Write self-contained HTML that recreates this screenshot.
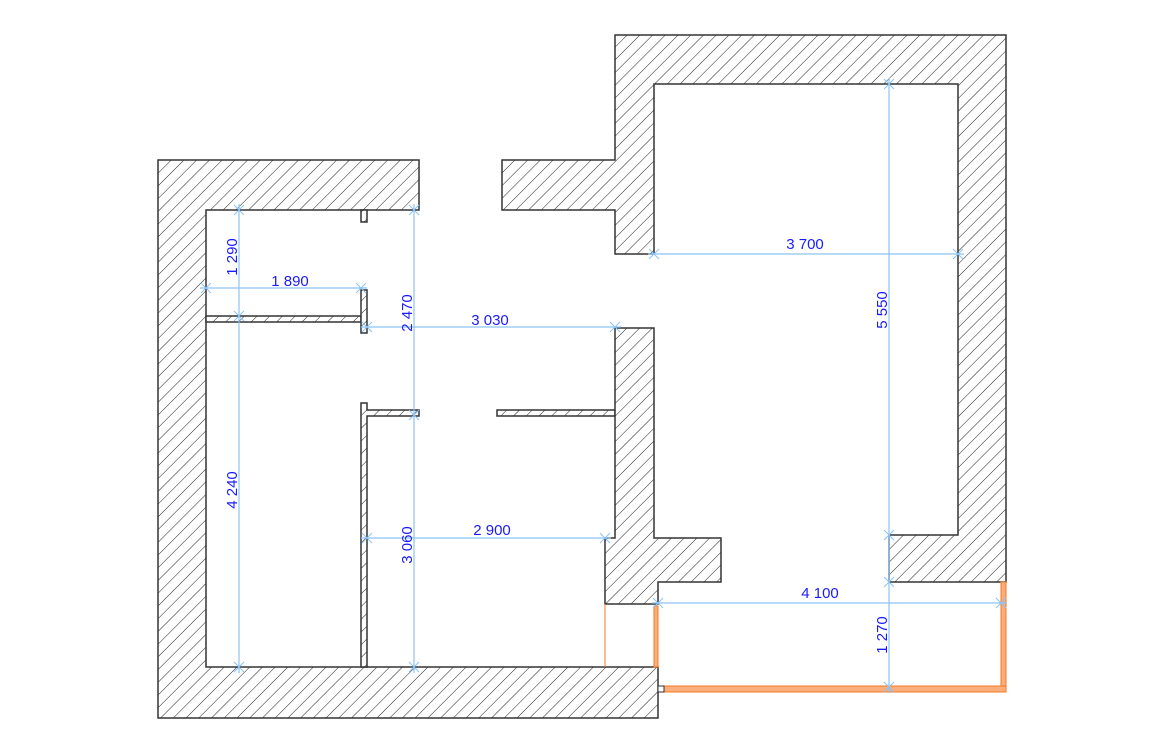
<!DOCTYPE html>
<html><head><meta charset="utf-8"><style>
html,body{margin:0;padding:0;background:#fff}
svg{display:block}
text{font-family:"Liberation Sans",sans-serif;font-size:15px;fill:#1a1aff}
</style></head><body>
<svg width="1163" height="751" viewBox="0 0 1163 751" xmlns="http://www.w3.org/2000/svg">
<defs>
<pattern id="h" patternUnits="userSpaceOnUse" width="9" height="9" patternTransform="rotate(45)">
<rect width="9" height="9" fill="#fff"/>
<line x1="0" y1="0" x2="0" y2="9" stroke="#222" stroke-width="1"/>
</pattern>
</defs>
<g fill="url(#h)" stroke="#333" stroke-width="1.5">
<path d="M158,160 H419 V210 H206 V667 H658 V718 H158 Z"/>
<path d="M206,316 H361 V322 H206 Z"/>
<path d="M361,210 H367 V222 H361 Z"/>
<path d="M361,290 H367 V333 H361 Z"/>
<path d="M361,403 H367 V410 H419 V416 H367 V667 H361 Z"/>
<path d="M497,410 H615 V416 H497 Z"/>
<path d="M615,35 H1006 V582 H889 V535 H958 V84 H654 V254 H615 V210 H502 V160 H615 Z"/>
<path d="M615,328 H654 V538 H721 V582 H658 V604 H605 V538 H615 Z"/>
</g>
<g fill="#f9ae7c" stroke="#f47a20" stroke-width="1">
<line x1="605" y1="604" x2="605" y2="667"/>
<rect x="654" y="606" width="4" height="61"/>
<rect x="658" y="686" width="348" height="6"/>
<rect x="1001" y="582" width="5" height="104"/>
</g>
<rect x="658" y="686" width="6" height="6" fill="#fff" stroke="#333"/>
<g stroke="#8cc4f5" stroke-width="1.2" fill="none">
<line x1="239" y1="204" x2="239" y2="673"/>
<line x1="200" y1="288" x2="367" y2="288"/>
<line x1="414" y1="204" x2="414" y2="673"/>
<line x1="361" y1="327" x2="621" y2="327"/>
<line x1="361" y1="538" x2="611" y2="538"/>
<line x1="648" y1="254" x2="964" y2="254"/>
<line x1="889" y1="78" x2="889" y2="693"/>
<line x1="652" y1="603" x2="1007" y2="603"/>
<g stroke-width="1">
<path d="M234,205 l10,10 M244,205 l-10,10 M234,311 l10,10 M244,311 l-10,10 M234,662 l10,10 M244,662 l-10,10"/>
<path d="M201,283 l10,10 M211,283 l-10,10 M356,283 l10,10 M366,283 l-10,10"/>
<path d="M409,205 l10,10 M419,205 l-10,10 M409,410 l10,10 M419,410 l-10,10 M409,662 l10,10 M419,662 l-10,10"/>
<path d="M362,322 l10,10 M372,322 l-10,10 M610,322 l10,10 M620,322 l-10,10"/>
<path d="M362,533 l10,10 M372,533 l-10,10 M600,533 l10,10 M610,533 l-10,10"/>
<path d="M649,249 l10,10 M659,249 l-10,10 M953,249 l10,10 M963,249 l-10,10"/>
<path d="M884,79 l10,10 M894,79 l-10,10 M884,530 l10,10 M894,530 l-10,10 M884,577 l10,10 M894,577 l-10,10 M884,682 l10,10 M894,682 l-10,10"/>
<path d="M653,598 l10,10 M663,598 l-10,10 M996,598 l10,10 M1006,598 l-10,10"/>
</g>
</g>
<text x="290" y="286" text-anchor="middle">1 890</text>
<text x="490" y="325" text-anchor="middle">3 030</text>
<text x="492" y="535" text-anchor="middle">2 900</text>
<text x="805" y="249" text-anchor="middle">3 700</text>
<text x="820" y="598" text-anchor="middle">4 100</text>
<text transform="translate(237,257) rotate(-90)" text-anchor="middle">1 290</text>
<text transform="translate(237,490) rotate(-90)" text-anchor="middle">4 240</text>
<text transform="translate(412,313) rotate(-90)" text-anchor="middle">2 470</text>
<text transform="translate(412,545) rotate(-90)" text-anchor="middle">3 060</text>
<text transform="translate(887,310) rotate(-90)" text-anchor="middle">5 550</text>
<text transform="translate(887,635) rotate(-90)" text-anchor="middle">1 270</text>
</svg>
</body></html>
